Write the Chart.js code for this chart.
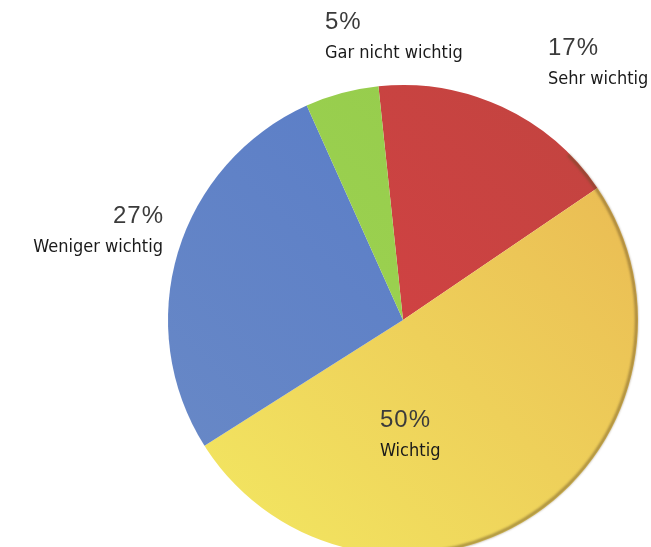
<!DOCTYPE html>
<html>
<head>
<meta charset="utf-8">
<script src="https://cdn.jsdelivr.net/npm/chart.js@4"></script>
<style>
  html, body { margin: 0; padding: 0; background: #fff; overflow: hidden; }
  #chart1 { display: block; }
</style>
</head>
<body>
<canvas id="chart1" width="651" height="560"></canvas>
<script>
// Umfrage: wie wichtig ist das Thema
const labels = ['Sehr wichtig', 'Wichtig', 'Weniger wichtig', 'Gar nicht wichtig'];
const values = [17, 50, 27, 5];

// farben pro segment: [hell, dunkel] für den verlauf
const sliceColors = [
    ['#de4046', '#c0443f'],
    ['#f3ea62', '#e9b652'],
    ['#6a8ac6', '#5579c8'],
    ['#a2d853', '#93c94b']
];

// wo die beschriftungen stehen (x, ausrichtung) und zeile
const labelSpots = [
    [548, 'left'],
    [380, 'left'],
    [163, 'right'],
    [325, 'left']
];
const labelRows = [48, 420, 216, 22];

// verlauf je segment, über die ganze chartfläche
function sliceFill(context) {
    const chart = context.chart;
    const area = chart.chartArea;
    if (!area) return sliceColors[context.dataIndex][0];
    const c = sliceColors[context.dataIndex];
    const g = chart.ctx.createLinearGradient(area.left, area.bottom, area.right, area.top);
    g.addColorStop(0, c[0]);
    g.addColorStop(1, c[1]);
    return g;
}

// texte und rand selbst zeichnen
const pieText = {
    id: 'pieText',
    afterDatasetsDraw(chart) {
        const ctx = chart.ctx;
        const arc = chart.getDatasetMeta(0).data[0];
        const cx = arc.x, cy = arc.y, r = arc.outerRadius;

        // dunkler rand rechts (3d-effekt)
        ctx.save();
        ctx.filter = 'blur(1px)';
        ctx.strokeStyle = 'rgba(100,75,35,0.5)';
        ctx.lineWidth = 3;
        ctx.beginPath();
        ctx.arc(cx, cy, r - 1.5, -Math.PI * 0.25, Math.PI * 0.45);
        ctx.stroke();
        ctx.restore();

        ctx.save();
        ctx.textBaseline = 'middle';
        values.forEach((v, i) => {
            const x = labelSpots[i][0];
            const y = labelRows[i];
            ctx.textAlign = labelSpots[i][1];
            ctx.fillStyle = '#3b3b3b';
            ctx.font = '24px "Liberation Sans", sans-serif';
            ctx.letterSpacing = '1px';
            ctx.fillText(v + '%', labelSpots[i][1] === 'right' ? x + 1 : x, y);
            ctx.letterSpacing = '0px';
            ctx.fillStyle = '#1a1a1a';
            ctx.font = '18px "DejaVu Sans Condensed", "Liberation Sans", sans-serif';
            ctx.fillText(labels[i], x, y + 31);
        });
        ctx.restore();
    }
};

const ctx = document.querySelector('#chart1').getContext('2d');
const chart = new Chart(ctx, {
    type: 'pie',
    data: {
        labels: labels,
        datasets: [{
            data: values,
            backgroundColor: sliceFill,
            borderWidth: 0
        }]
    },
    options: {
        responsive: false,
        animation: false,
        rotation: -6,
        layout: {
            padding: { left: 168, right: 13, top: 85, bottom: 5 }
        },
        plugins: {
            legend: { display: false },
            tooltip: { enabled: false }
        }
    },
    plugins: [pieText]
});
</script>
</body>
</html>
